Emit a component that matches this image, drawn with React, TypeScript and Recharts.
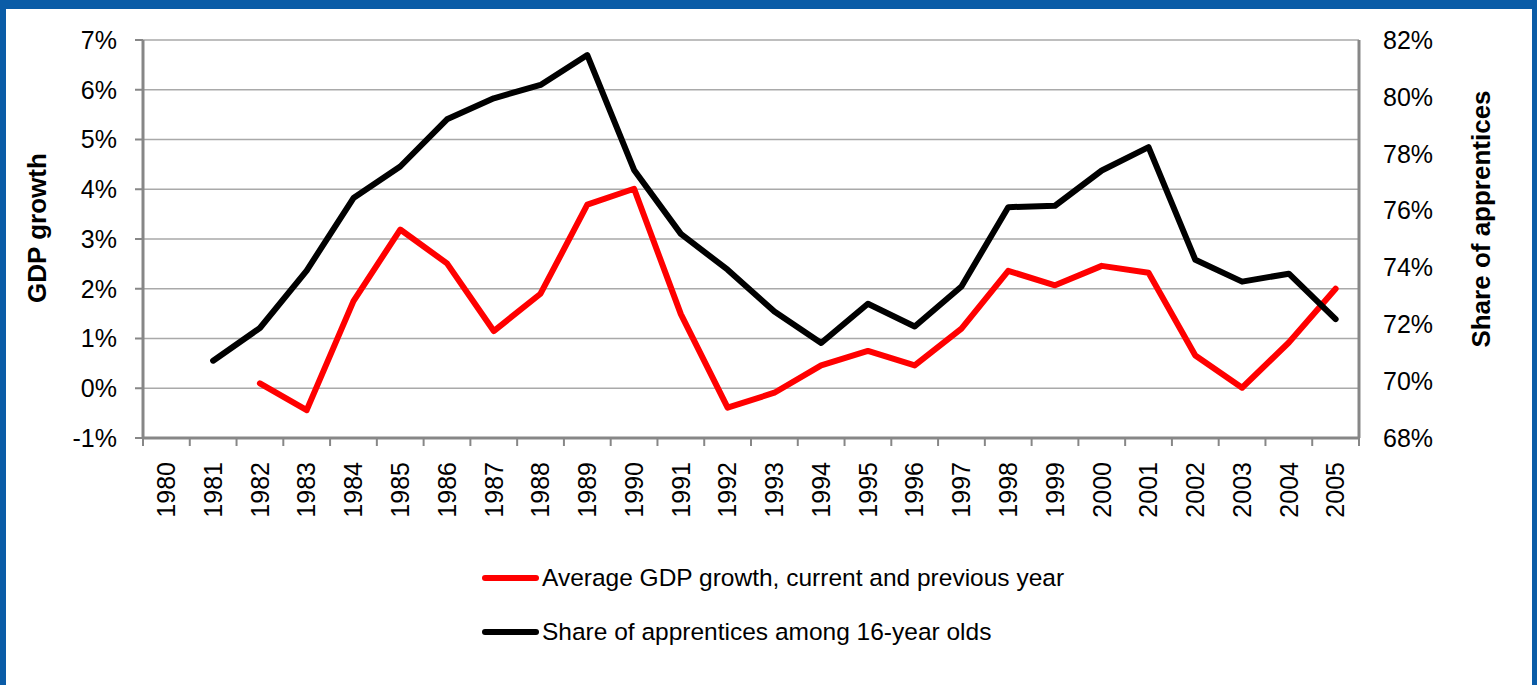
import { LineChart, Line, XAxis, YAxis, CartesianGrid, Legend } from 'recharts';

const years = [
    1980, 1981, 1982, 1983, 1984, 1985, 1986, 1987, 1988, 1989, 1990, 1991, 1992,
    1993, 1994, 1995, 1996, 1997, 1998, 1999, 2000, 2001, 2002, 2003, 2004, 2005,
];

// average GDP growth, current and previous year (%)
const gdpGrowth: (number | null)[] = [
    null, null, 0.10, -0.44, 1.75, 3.19, 2.51, 1.15, 1.90, 3.69, 4.01, 1.49, -0.39,
    -0.09, 0.46, 0.75, 0.46, 1.20, 2.36, 2.07, 2.46, 2.32, 0.66, 0.01, 0.92, 2.00,
];

// share of apprentices among 16-year olds (%)
const apprenticeShare: (number | null)[] = [
    null, 70.72, 71.87, 73.89, 76.44, 77.55, 79.21, 79.95, 80.42, 81.47, 77.43, 75.18, 73.92,
    72.45, 71.34, 72.72, 71.92, 73.33, 76.12, 76.17, 77.41, 78.23, 74.27, 73.50, 73.78, 72.18,
];

const leftTicks = [-1, 0, 1, 2, 3, 4, 5, 6, 7];
const rightTicks = [68, 70, 72, 74, 76, 78, 80, 82];

const FONT = '"Liberation Sans", Arial, sans-serif';
const AXIS_GREY = '#878787';
const GRID_GREY = '#a9a9a9';

const data = years.map((year, i) => ({
    year,
    gdp: gdpGrowth[i],
    share: apprenticeShare[i],
}));

// tick marks sit between the years, like a category axis
const boundaries = [...years.map(y => y - 0.5), years[years.length - 1] + 0.5];
const xDomain = [boundaries[0], boundaries[boundaries.length - 1]];

const pct = (v: number) => `${v}%`;

function YearTick({ x, y, payload }: any) {
    return (
        <g transform={`translate(${x},${y})`}>
            <text transform="rotate(-90)" textAnchor="end" dy="0.35em" fontSize={25} fontFamily={FONT} fill="#000">
                {payload.value}
            </text>
        </g>
    );
}

// tick line only, no label
function NoLabel() {
    return null;
}

function axisTitle(text: string, dx: number, dy: number) {
    return ({ viewBox }: any) => {
        const cx = viewBox.x + dx;
        const cy = viewBox.y + viewBox.height / 2 + dy;
        return (
            <text
                x={cx}
                y={cy}
                transform={`rotate(-90 ${cx} ${cy})`}
                textAnchor="middle"
                dominantBaseline="central"
                fontSize={26}
                fontWeight="bold"
                fontFamily={FONT}
                fill="#000"
            >
                {text}
            </text>
        );
    };
}

function LegendBox({ payload }: any) {
    return (
        <div style={{ position: 'relative', width: 1537, height: 110, fontFamily: FONT, fontSize: 24.5 }}>
            {(payload || []).map((entry: any, i: number) => (
                <div
                    key={entry.value}
                    style={{ position: 'absolute', left: 479, top: 24 + i * 54, height: 28, display: 'flex', alignItems: 'center', whiteSpace: 'nowrap' }}
                >
                    <svg width={63} height={28}>
                        <line x1={6} y1={14} x2={57} y2={14} stroke={entry.color} strokeWidth={6} strokeLinecap="round" />
                    </svg>
                    <span style={{ color: '#000' }}>{entry.value}</span>
                </div>
            ))}
        </div>
    );
}

export default function App() {
    return (
        <div style={{ position: 'absolute', left: 0, top: 0, width: 1537, height: 685, background: '#0a5ca7' }}>
            <div style={{ position: 'absolute', left: 6, top: 9, width: 1526, height: 676, background: '#fff' }} />
            <div style={{ position: 'absolute', left: 0, top: 0 }}>
                <LineChart width={1537} height={685} data={data} margin={{ top: 40, right: 0, bottom: 0, left: 0 }}>
                    <CartesianGrid yAxisId="left" xAxisId="ticks" vertical={false} stroke={GRID_GREY} strokeWidth={1.5} />
                    <XAxis
                        xAxisId="ticks"
                        dataKey="year"
                        type="number"
                        domain={xDomain}
                        ticks={boundaries}
                        interval={0}
                        height={8}
                        tick={<NoLabel />}
                        tickSize={8}
                        tickMargin={0}
                        tickLine={{ stroke: AXIS_GREY, strokeWidth: 2 }}
                        axisLine={{ stroke: AXIS_GREY, strokeWidth: 3 }}
                    />
                    <XAxis
                        xAxisId="years"
                        dataKey="year"
                        type="number"
                        domain={xDomain}
                        ticks={years}
                        interval={0}
                        height={129}
                        axisLine={false}
                        tickLine={false}
                        tickSize={0}
                        tickMargin={16}
                        tick={<YearTick />}
                    />
                    <YAxis
                        yAxisId="left"
                        width={143}
                        domain={[-1, 7]}
                        ticks={leftTicks}
                        interval={0}
                        tickFormatter={pct}
                        tickSize={8}
                        tickMargin={18}
                        tick={{ fontSize: 25, fill: '#000', fontFamily: FONT }}
                        tickLine={{ stroke: AXIS_GREY, strokeWidth: 2 }}
                        axisLine={{ stroke: AXIS_GREY, strokeWidth: 3 }}
                        label={axisTitle('GDP growth', 37, -11)}
                    />
                    <YAxis
                        yAxisId="right"
                        orientation="right"
                        width={178}
                        domain={[68, 82]}
                        ticks={rightTicks}
                        interval={0}
                        tickFormatter={pct}
                        tickSize={0}
                        tickMargin={24}
                        tickLine={false}
                        tick={{ fontSize: 25, fill: '#000', fontFamily: FONT, textAnchor: 'start' }}
                        axisLine={{ stroke: AXIS_GREY, strokeWidth: 3 }}
                        label={axisTitle('Share of apprentices', 122, -20)}
                    />
                    <Legend
                        verticalAlign="bottom"
                        content={<LegendBox />}
                        wrapperStyle={{ top: 540, left: 0, bottom: 'auto', width: 1537, height: 110 }}
                    />
                    <Line
                        xAxisId="years"
                        yAxisId="left"
                        dataKey="gdp"
                        name="Average GDP growth, current and previous year"
                        stroke="#ff0000"
                        strokeWidth={6}
                        strokeLinejoin="round"
                        strokeLinecap="round"
                        dot={false}
                        activeDot={false}
                        isAnimationActive={false}
                    />
                    <Line
                        xAxisId="years"
                        yAxisId="right"
                        dataKey="share"
                        name="Share of apprentices among 16-year olds"
                        stroke="#000000"
                        strokeWidth={6}
                        strokeLinejoin="round"
                        strokeLinecap="round"
                        dot={false}
                        activeDot={false}
                        isAnimationActive={false}
                    />
                </LineChart>
            </div>
        </div>
    );
}
